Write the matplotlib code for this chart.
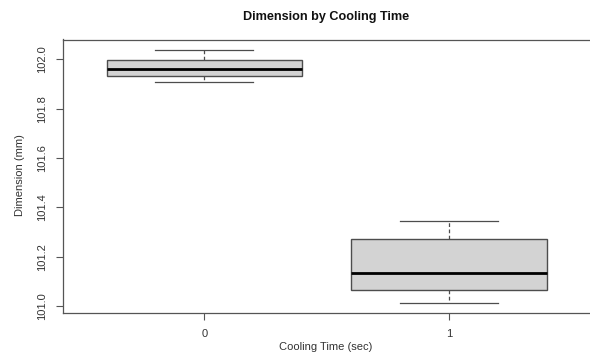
import matplotlib
matplotlib.use("Agg")
import matplotlib.pyplot as plt

plt.rcParams['font.family'] = ['Liberation Sans', 'DejaVu Sans']

categories = ["0", "1"]
whislo = [101.908, 101.013]
q1 = [101.932, 101.065]
med = [101.961, 101.132]
q3 = [101.996, 101.272]
whishi = [102.038, 101.345]
yticks = [101.0, 101.2, 101.4, 101.6, 101.8, 102.0]

stats = []
for i, c in enumerate(categories):
    stats.append(dict(label=c, whislo=whislo[i], q1=q1[i], med=med[i],
                      q3=q3[i], whishi=whishi[i], fliers=[]))

fig = plt.figure(figsize=(5.9, 3.63), dpi=100)
ax = fig.add_axes([62.5/590, 1-312.7/363, (591-62.5)/590, (312.7-39.5)/363])

edge = '#4d4d4d'
ax.bxp(stats, positions=[1, 2], widths=0.8, patch_artist=True,
       boxprops=dict(facecolor='#d3d3d3', edgecolor=edge, linewidth=1.0),
       medianprops=dict(color='black', linewidth=2.0),
       whiskerprops=dict(color=edge, linestyle=(0, (3, 2)), linewidth=0.9),
       capprops=dict(color=edge, linewidth=0.9),
       capwidths=0.4, showfliers=False)

ax.set_xlim(0.42, 2.58)
ax.set_ylim(100.973, 102.080)
ax.set_yticks(yticks)
ax.set_yticklabels([f"{v:.1f}" for v in yticks], rotation=90, va='center')
ax.set_xticks([1, 2])
ax.set_xticklabels(categories)

for s in ax.spines.values():
    s.set_color('#555555')
    s.set_linewidth(0.9)
ax.spines['right'].set_visible(False)
ax.tick_params(axis='both', colors='#555555', labelcolor='#333333',
               labelsize=8, length=5, width=0.8)
ax.tick_params(axis='x', pad=7)
ax.tick_params(axis='y', pad=6)

fig.text(326/590, 1-347/363, "Cooling Time (sec)", ha='center', va='center',
         fontsize=8, color='#333333')
fig.text(20/590, 1-175/363, "Dimension (mm)", ha='center', va='center',
         rotation=90, fontsize=8, color='#333333')
fig.text(326/590, 1-17/363, "Dimension by Cooling Time", ha='center', va='center',
         fontsize=9.1, fontweight='bold', color='#111111')

fig.savefig("out.png", dpi=100, facecolor='white')
